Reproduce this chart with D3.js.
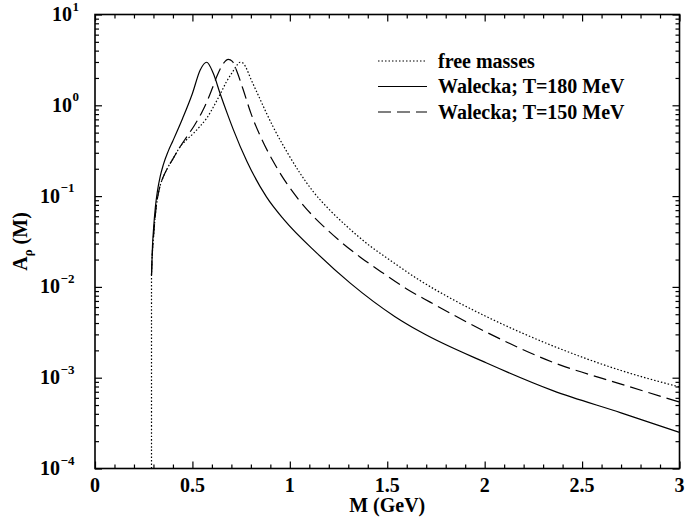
<!DOCTYPE html>
<html>
<head>
<meta charset="utf-8">
<script src="https://cdn.jsdelivr.net/npm/d3@7"></script>
<style>
  html, body { margin: 0; padding: 0; background: #fff; }
  svg { display: block; }
  text { font-family: "Liberation Serif", "DejaVu Serif", serif; font-weight: bold; fill: #000; }
</style>
</head>
<body>
<svg id="chart" width="686" height="529"></svg>
<script>
/* Chart data */
const xTicks = [0, 0.5, 1, 1.5, 2, 2.5, 3];
const xTickLabels = ["0", "0.5", "1", "1.5", "2", "2.5", "3"];
const yDecades = [-4, -3, -2, -1, 0, 1];

// free masses (dotted)
const massFree = [0.29, 0.29, 0.295, 0.30, 0.31, 0.32, 0.335, 0.35, 0.375, 0.40, 0.436, 0.47, 0.505, 0.54, 0.573, 0.61, 0.642, 0.675, 0.71, 0.73, 0.744, 0.76, 0.775, 0.80, 0.847, 0.88, 0.915, 0.984, 1.05, 1.12, 1.20, 1.29, 1.40, 1.51, 1.67, 1.84, 2.01, 2.35, 2.70, 3.00];
const aFree = [1e-4, 0.0135, 0.025, 0.035, 0.063, 0.093, 0.132, 0.162, 0.209, 0.257, 0.347, 0.417, 0.49, 0.59, 0.72, 0.98, 1.32, 1.82, 2.4, 2.79, 2.98, 2.92, 2.6, 1.95, 1.17, 0.82, 0.575, 0.31, 0.182, 0.112, 0.072, 0.047, 0.0295, 0.020, 0.0117, 0.0072, 0.0047, 0.00224, 0.0012, 0.00079];

// Walecka; T=180 MeV (solid)
const massW180 = [0.29, 0.295, 0.30, 0.31, 0.32, 0.335, 0.35, 0.375, 0.40, 0.45, 0.50, 0.54, 0.573, 0.607, 0.642, 0.68, 0.71, 0.78, 0.88, 0.97, 1.14, 1.31, 1.54, 1.67, 2.01, 2.35, 2.70, 3.00];
const aW180 = [0.0135, 0.028, 0.042, 0.076, 0.112, 0.166, 0.219, 0.309, 0.407, 0.72, 1.35, 2.45, 2.98, 2.25, 1.35, 0.80, 0.54, 0.24, 0.098, 0.055, 0.0234, 0.011, 0.0047, 0.0032, 0.00145, 0.00072, 0.00041, 0.00025];

// Walecka; T=150 MeV (dashed)
const massW150 = [0.29, 0.295, 0.30, 0.31, 0.32, 0.335, 0.35, 0.375, 0.40, 0.436, 0.47, 0.51, 0.55, 0.573, 0.60, 0.625, 0.655, 0.684, 0.705, 0.727, 0.76, 0.80, 0.85, 0.915, 0.984, 1.05, 1.12, 1.19, 1.26, 1.36, 1.48, 1.60, 1.72, 2.01, 2.35, 2.70, 3.00];
const aW150 = [0.0135, 0.025, 0.035, 0.063, 0.093, 0.132, 0.162, 0.209, 0.257, 0.347, 0.447, 0.60, 0.85, 1.08, 1.5, 2.07, 2.8, 3.2, 3.05, 2.4, 1.5, 0.82, 0.45, 0.24, 0.138, 0.089, 0.060, 0.043, 0.0316, 0.0214, 0.0141, 0.0095, 0.0068, 0.00316, 0.00148, 0.00085, 0.00054];

const seriesNames = ["free masses", "Walecka; T=180 MeV", "Walecka; T=150 MeV"];

/* Layout */
const margin = { top: 14.5, right: 6.5, bottom: 60.5, left: 95 };
const width = 686 - margin.left - margin.right;
const height = 529 - margin.top - margin.bottom;

const svg = d3.select("#chart");
const g = svg.append("g").attr("transform", `translate(${margin.left},${margin.top})`);

const x = d3.scaleLinear().domain([0, 3]).range([0, width]);
const y = d3.scaleLog().domain([1e-4, 10]).range([height, 0]);

const xMinor = d3.range(0, 3.0001, 0.1).filter((v) => Math.abs(v * 2 - Math.round(v * 2)) > 1e-6);
const yMajor = yDecades.map((e) => Math.pow(10, e));
const yMinor = [];
yDecades.slice(0, -1).forEach((e) => {
	for (let k = 2; k <= 9; k++) yMinor.push(k * Math.pow(10, e));
});

// Ticks on all four sides, pointing inward
const addTicks = function(axis, values, size, transform) {
	const a = g.append("g")
		.attr("transform", transform)
		.call(axis.tickValues(values).tickSize(size).tickFormat(""));
	a.select(".domain").remove();
	a.selectAll("line").attr("stroke", "#000").attr("stroke-width", 1.2);
	a.selectAll("text").remove();
};
addTicks(d3.axisBottom(x), xTicks, -7, `translate(0,${height})`);
addTicks(d3.axisBottom(x), xMinor, -4, `translate(0,${height})`);
addTicks(d3.axisTop(x), xTicks, -7, "translate(0,0)");
addTicks(d3.axisTop(x), xMinor, -4, "translate(0,0)");
addTicks(d3.axisLeft(y), yMajor, -7, "translate(0,0)");
addTicks(d3.axisLeft(y), yMinor, -4, "translate(0,0)");
addTicks(d3.axisRight(y), yMajor, -7, `translate(${width},0)`);
addTicks(d3.axisRight(y), yMinor, -4, `translate(${width},0)`);

// Frame
g.append("rect")
	.attr("width", width)
	.attr("height", height)
	.attr("fill", "none")
	.attr("stroke", "#000")
	.attr("stroke-width", 1.6);

// X tick labels
g.selectAll(".xlabel")
	.data(xTicks)
	.enter()
	.append("text")
	.attr("class", "xlabel")
	.attr("x", (d) => x(d))
	.attr("y", height + 23)
	.attr("text-anchor", "middle")
	.attr("font-size", 20)
	.text((d, i) => xTickLabels[i]);

// Y tick labels: 10^e
g.selectAll(".ylabel")
	.data(yDecades)
	.enter()
	.append("text")
	.attr("class", "ylabel")
	.attr("font-size", 20)
	.attr("x", (d) => (d < 0 ? 60 : 72) - margin.left)
	.attr("y", (d) => y(Math.pow(10, d)) + 6.5)
	.attr("text-anchor", "end")
	.text("10");
g.selectAll(".yexp")
	.data(yDecades)
	.enter()
	.append("text")
	.attr("class", "yexp")
	.attr("font-size", 13)
	.attr("x", (d) => (d < 0 ? 60.5 : 72.5) - margin.left)
	.attr("y", (d) => y(Math.pow(10, d)) - 4)
	.text((d) => (d < 0 ? "\u2212" + (-d) : String(d)));

// Axis titles
svg.append("text")
	.attr("x", margin.left + width / 2)
	.attr("y", 512)
	.attr("text-anchor", "middle")
	.attr("font-size", 20)
	.text("M (GeV)");

const yt = svg.append("text")
	.attr("transform", `translate(27,${margin.top + height / 2}) rotate(-90)`)
	.attr("text-anchor", "middle")
	.attr("font-size", 20);
yt.append("tspan").text("A");
yt.append("tspan").attr("font-size", 13).attr("dy", 5).text("\u03c1");
yt.append("tspan").attr("dy", -5).text(" (M)");

// Curves
const clip = svg.append("defs").append("clipPath").attr("id", "plot-clip");
clip.append("rect").attr("width", width).attr("height", height);

const line = d3.line()
	.x((d) => x(d[0]))
	.y((d) => y(d[1]))
	.curve(d3.curveMonotoneX);

const series = [
	{ name: seriesNames[0], values: d3.zip(massFree, aFree), dash: "1.5,2" },
	{ name: seriesNames[1], values: d3.zip(massW180, aW180), dash: null },
	{ name: seriesNames[2], values: d3.zip(massW150, aW150), dash: "13,6" }
];

const curves = g.append("g").attr("clip-path", "url(#plot-clip)");
curves.selectAll(".curve")
	.data(series)
	.enter()
	.append("path")
	.attr("class", "curve")
	.attr("d", (d) => line(d.values))
	.attr("fill", "none")
	.attr("stroke", "#000")
	.attr("stroke-width", 1.2)
	.attr("stroke-dasharray", (d) => d.dash);

// Legend
const legend = svg.append("g").attr("transform", "translate(378,61)");
const rows = legend.selectAll(".row")
	.data(series)
	.enter()
	.append("g")
	.attr("class", "row")
	.attr("transform", (d, i) => `translate(0,${i * 25.5})`);
rows.append("line")
	.attr("x1", 0)
	.attr("x2", 49)
	.attr("y1", 0)
	.attr("y2", 0)
	.attr("stroke", "#000")
	.attr("stroke-width", 1.2)
	.attr("stroke-dasharray", (d) => d.dash);
rows.append("text")
	.attr("x", 60)
	.attr("y", 6.5)
	.attr("font-size", 20)
	.text((d) => d.name);
</script>
</body>
</html>
